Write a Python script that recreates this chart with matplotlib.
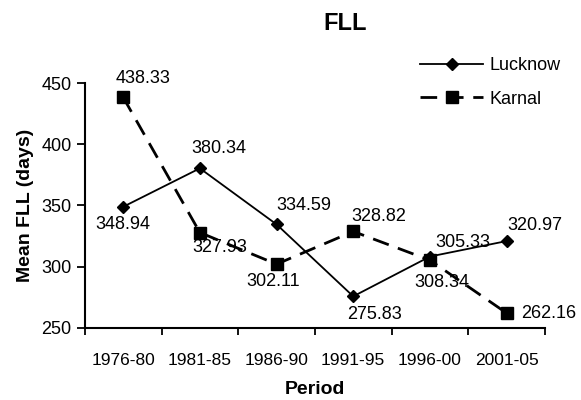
import numpy as np
import matplotlib.pyplot as plt

plt.rcParams['font.family'] = ['Liberation Sans', 'DejaVu Sans']

periods = ["1976-80", "1981-85", "1986-90", "1991-95", "1996-00", "2001-05"]
lucknow = [348.94, 380.34, 334.59, 275.83, 308.34, 320.97]
karnal = [438.33, 327.93, 302.11, 328.82, 305.33, 262.16]

# label offsets in pixels: (dx, dy, ha)
luck_pos = [(0, -18, 'center'), (19, 20, 'center'), (27, 19, 'center'),
            (21, -18, 'center'), (12, -26, 'center'), (28, 16, 'center')]
karn_pos = [(20, 19, 'center'), (20, -15, 'center'), (-3, -17, 'center'),
            (26, 15, 'center'), (33, 18, 'center'), (14, 0, 'left')]

x = np.arange(len(periods))

fig = plt.figure(figsize=(5.81, 4.0), dpi=100)
ax = fig.add_axes([0.146, 0.18, 0.792, 0.6125])

ax.plot(x, lucknow, color='black', lw=1.3, marker='D', ms=6, label='Lucknow')
ax.plot(x, karnal, color='black', lw=2.0, ls=(0, (6, 3.5)), marker='s', ms=8,
        label='Karnal')

for xi, v, (dx, dy, ha) in zip(x, lucknow, luck_pos):
    ax.annotate(f"{v:.2f}", (xi, v), xytext=(dx, dy), textcoords='offset pixels',
                ha=ha, va='center', fontsize=13)
for xi, v, (dx, dy, ha) in zip(x, karnal, karn_pos):
    ax.annotate(f"{v:.2f}", (xi, v), xytext=(dx, dy), textcoords='offset pixels',
                ha=ha, va='center', fontsize=13)

ax.set_xlim(-0.5, 5.5)
ax.set_ylim(250, 450)
ax.set_yticks([250, 300, 350, 400, 450])
ax.set_xticks(x)
ax.set_xticklabels(periods, fontsize=12.5)
ax.tick_params(axis='x', length=0, pad=18)
ax.set_xticks(np.arange(-0.5, 6, 1), minor=True)
ax.tick_params(axis='x', which='minor', length=5, width=1.3, direction='out')
ax.tick_params(axis='y', labelsize=13, length=6, width=1.3, direction='out')
for s in ['top', 'right']:
    ax.spines[s].set_visible(False)
for s in ['left', 'bottom']:
    ax.spines[s].set_linewidth(1.5)

ax.set_xlabel("Period", fontweight='bold', fontsize=14, labelpad=9)
ax.set_ylabel("Mean FLL (days)", fontweight='bold', fontsize=14, labelpad=5)
fig.text(0.594, 0.941, "FLL", fontweight='bold', fontsize=17, ha='center', va='center')

fig.legend(loc='center left', bbox_to_anchor=(420 / 581, 0.794), frameon=False,
           fontsize=13, handlelength=3.5, handletextpad=0.35, labelspacing=0.9,
           borderpad=0, borderaxespad=0)

fig.savefig("out.png", dpi=100)
